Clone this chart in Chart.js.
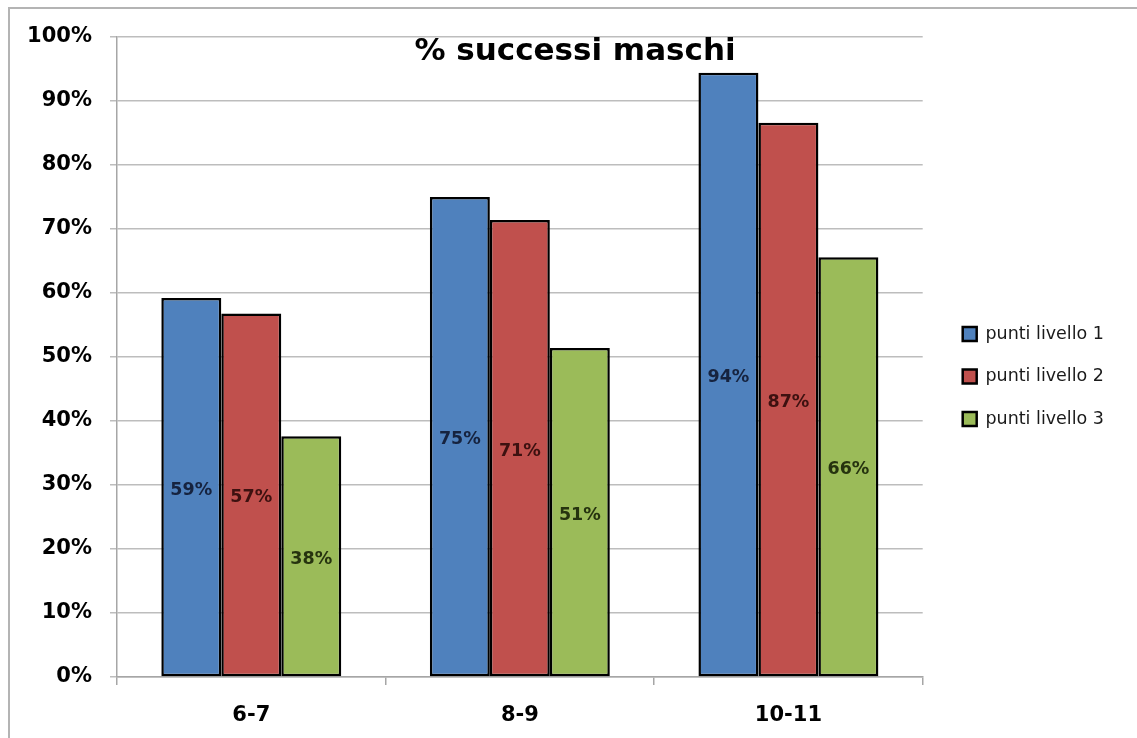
<!DOCTYPE html>
<html>
<head>
<meta charset="utf-8">
<script src="https://cdn.jsdelivr.net/npm/chart.js@4/dist/chart.umd.min.js"></script>
<style>
  html, body { margin: 0; padding: 0; background: #ffffff; overflow: hidden; }
  #wrap { position: relative; width: 1137px; height: 738px; overflow: hidden; }
  .edge { position: absolute; background: #b4b4b4; }
  #edgeTop { left: 8px; top: 7px; width: 1129px; height: 2px; }
  #edgeLeft { left: 8px; top: 7px; width: 2px; height: 731px; }
  canvas { position: absolute; left: 0; top: 0; }
</style>
</head>
<body>
<div id="wrap">
  <div class="edge" id="edgeTop"></div>
  <div class="edge" id="edgeLeft"></div>
  <canvas id="chart" width="1137" height="738"></canvas>
</div>
<script>
// Age groups and success rates (%) by scoring level
const categories = ['6-7', '8-9', '10-11'];
const livello1 = [59.2, 75.0, 94.4];
const livello2 = [56.8, 71.4, 86.6];
const livello3 = [37.6, 51.4, 65.6];
const seriesNames = ['punti livello 1', 'punti livello 2', 'punti livello 3'];
const titleText = '% successi maschi';

const fillColors = ['#4f81bd', '#c0504d', '#9bbb59'];
const labelColors = ['#16233f', '#3d1110', '#26330f'];

const FONT = '"DejaVu Sans", "Liberation Sans", sans-serif';

// Value labels centred in each bar
const barValueLabels = {
  id: 'barValueLabels',
  afterDatasetsDraw(chart) {
    const ctx = chart.ctx;
    ctx.save();
    ctx.font = 'bold 17.5px ' + FONT;
    ctx.textAlign = 'center';
    ctx.textBaseline = 'middle';
    chart.data.datasets.forEach((ds, di) => {
      const meta = chart.getDatasetMeta(di);
      meta.data.forEach((bar, i) => {
        const v = ds.data[i];
        ctx.fillStyle = labelColors[di];
        ctx.fillText(Math.round(v) + '%', bar.x, (bar.y + bar.base) / 2 + 3);
      });
    });
    ctx.restore();
  }
};

// Chart heading drawn over the plot area
const overlayTitle = {
  id: 'overlayTitle',
  afterDraw(chart) {
    const ctx = chart.ctx;
    ctx.save();
    ctx.font = 'bold 31px ' + FONT;
    ctx.fillStyle = '#000000';
    ctx.textAlign = 'center';
    ctx.textBaseline = 'middle';
    ctx.fillText(titleText, 575, 52);
    ctx.restore();
  }
};

const datasets = [livello1, livello2, livello3].map((vals, i) => ({
  label: seriesNames[i],
  data: vals,
  backgroundColor: fillColors[i],
  borderColor: '#000000',
  borderWidth: 2.5,
  borderSkipped: false,
  categoryPercentage: 0.67,
  barPercentage: 1.0,
  xAxisID: 'x',
  yAxisID: 'y'
}));

new Chart(document.getElementById('chart'), {
  type: 'bar',
  data: { labels: categories, datasets },
  plugins: [barValueLabels, overlayTitle],
  options: {
    responsive: false,
    animation: false,
    devicePixelRatio: 1,
    layout: { padding: { top: 15, left: 0, right: 23, bottom: 0 } },
    plugins: {
      title: { display: false },
      tooltip: { enabled: false },
      legend: {
        position: 'right',
        align: 'center',
        labels: {
          boxWidth: 14,
          boxHeight: 14,
          padding: 25,
          color: '#1a1a1a',
          font: { family: FONT, size: 17.5 }
        }
      }
    },
    scales: {
      x: {
        offset: true,
        grid: {
          offset: true,
          drawOnChartArea: false,
          drawTicks: true,
          tickLength: 8,
          color: '#a6a6a6',
          lineWidth: 1.5
        },
        border: { color: '#a6a6a6', width: 1.5 },
        ticks: {
          color: '#000000',
          padding: 18,
          font: { family: FONT, size: 21, weight: 'bold' }
        },
        afterFit(scale) { scale.height = 61; }
      },
      y: {
        min: 0,
        max: 100,
        ticks: {
          stepSize: 10,
          color: '#000000',
          padding: 18,
          font: { family: FONT, size: 21, weight: 'bold' },
          callback: (v) => v + '%'
        },
        grid: { color: '#bdbdbd', lineWidth: 1.5, tickLength: 7 },
        border: { color: '#a6a6a6', width: 1.5 },
        afterFit(scale) { scale.width = 117; }
      },
      // empty boxes that set the gaps around the plot area
      padRight: {
        type: 'linear',
        position: 'right',
        display: true,
        grid: { display: false },
        border: { display: false },
        ticks: { display: false },
        afterFit(scale) { scale.width = 15; }
      },
      padTop: {
        type: 'category',
        position: 'top',
        display: true,
        grid: { display: false },
        border: { display: false },
        ticks: { display: false },
        afterFit(scale) { scale.height = 22; }
      }
    }
  }
});
</script>
</body>
</html>
